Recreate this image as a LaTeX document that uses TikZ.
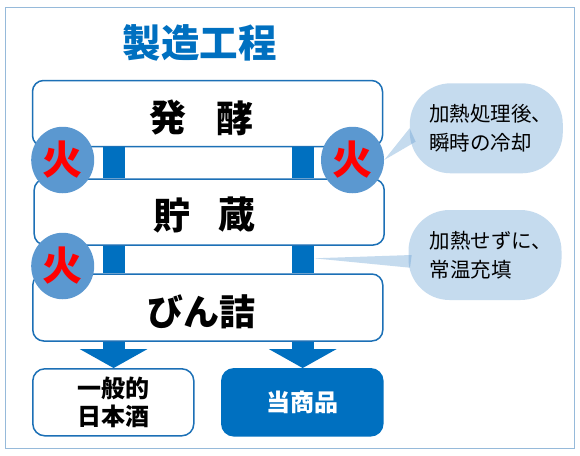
\documentclass[tikz,border=0pt]{standalone}
\usepackage{fontspec}
\setmainfont{Noto Sans CJK JP}
\usepackage{xcolor}
\usepackage{tikz}
\usetikzlibrary{arrows.meta, positioning, calc, shapes.geometric}
\definecolor{processblue}{RGB}{0, 112, 192}
\definecolor{edgeblue}{RGB}{28, 112, 182}
\definecolor{frameblue}{RGB}{150, 186, 218}
\definecolor{fireblue}{RGB}{91, 152, 208}
\newcommand{\fsize}[2]{\fontsize{#1}{#2}\selectfont}

\begin{document}
\begin{tikzpicture}[x=1pt, y=-1pt,
    stage/.style={draw=edgeblue, line width=1.5pt, fill=white, rounded corners=11pt, minimum width=350pt, inner sep=0pt},
    stagetext/.style={inner sep=0pt, font=\fsize{37}{37}\bfseries},
    outcome/.style={draw=edgeblue, line width=1.5pt, rounded corners=12pt, minimum width=161pt, minimum height=67pt, inner sep=0pt, align=center, font=\fsize{24}{28}\bfseries},
    fire/.style={ellipse, fill=fireblue, text=red, minimum width=63pt, minimum height=66.5pt, inner sep=0pt, font=\fsize{40}{40}\bfseries},
    bubble/.style={fill=fireblue, fill opacity=0.35, rounded corners=41pt, minimum width=153pt, minimum height=90pt, inner sep=0pt},
    bubbletext/.style={anchor=west, inner sep=0pt, align=left, font=\fsize{20.5}{29}},
    tail/.style={fill=fireblue, fill opacity=0.35},
    bar/.style={draw=processblue, line width=22pt},
    drop/.style={bar, -{Triangle[width=67pt, length=19pt]}}]
    \useasboundingbox (0,0) rectangle (580,455);
    \fill[white] (0,0) rectangle (580,455);
    \draw[frameblue, line width=1pt] (5.5,7.5) rectangle (574.5,448);
    \node[text=processblue, font=\fsize{38.5}{38.5}\bfseries] (title) at (199.5,43) {製造工程};
    \coordinate (barL) at (113.6,0);
    \coordinate (barR) at (302.7,0);
    \node[stage, minimum height=66pt] (ferment) at (207.5,113.5) {};
    \node[stage, minimum height=66pt] (storage) at (209.2,212) {};
    \node[stage, minimum height=67pt] (bottling) at (207.8,307.5) {};
    \node[outcome, fill=white] (regular) at (113.3,402.3) {一般的\\日本酒};
    \node[outcome, fill=processblue, draw=processblue, text=white] (product) at (302.3,402.3) {当商品};
    \draw[bar] (ferment.south -| barL) -- (storage.north -| barL);
    \draw[bar] (ferment.south -| barR) -- (storage.north -| barR);
    \draw[bar] (storage.south -| barL) -- (bottling.north -| barL);
    \draw[bar] (storage.south -| barR) -- (bottling.north -| barR);
    \draw[drop] (bottling.south -| barL) -- (regular.north -| barL);
    \draw[drop] (bottling.south -| barR) -- (product.north -| barR);
    \node[stagetext] (fermentA) at (168,118) {発};
    \node[stagetext, right=29.5pt of fermentA] (fermentB) {酵};
    \node[stagetext] (storageA) at (171.5,215) {貯};
    \node[stagetext, right=28pt of storageA] (storageB) {蔵};
    \node[stagetext, font=\fsize{36}{36}\bfseries] (bottlingT) at (201.7,312) {びん詰};
    \node[fire] (fireA) at (62.7,160) {火};
    \node[fire] (fireB) at (352.5,160) {火};
    \node[fire] (fireC) at (62.7,266) {火};
    \node[bubble] (flash) at (486.3,128.3) {};
    \node[bubble] (cold) at (485,255) {};
    \node[bubbletext, right=19.5pt of flash.west] (flashT) {加熱処理後、\\瞬時の冷却};
    \node[bubbletext, right=21pt of cold.west] (coldT) {加熱せずに、\\常温充填};
    \coordinate (coldtip) at (314,258.3);
    \fill[tail] (flash.west) -- (fireB.east) -- ($(flash.west)+(6,13.4)$) -- cycle;
    \fill[tail] ($(cold.west)+(3.4,0)$) -- (coldtip) -- ($(cold.west)+(1.7,12.7)$) -- cycle;
\end{tikzpicture}
\end{document}
